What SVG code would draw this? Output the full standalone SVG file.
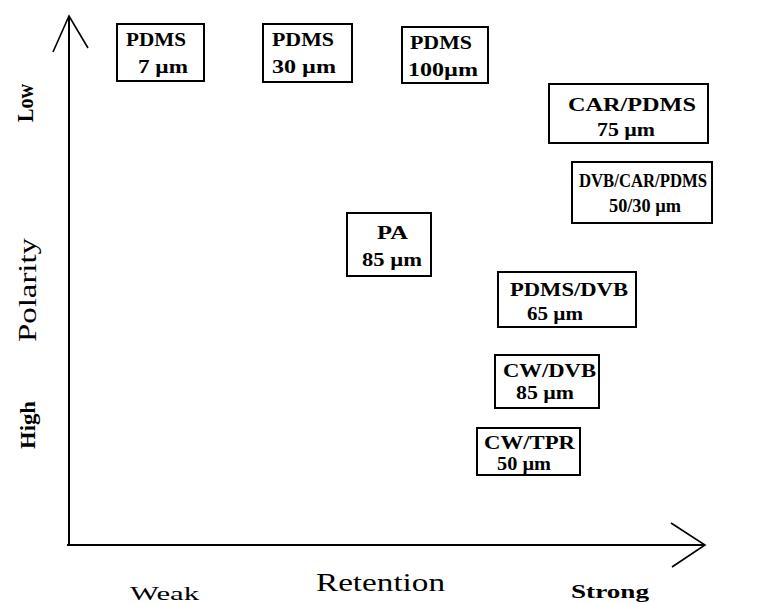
<svg xmlns="http://www.w3.org/2000/svg" width="758" height="603" viewBox="0 0 758 603">
<style>
.box{fill:#fff;stroke:#000;stroke-width:2}
.t{font-family:"Liberation Serif","Times New Roman",serif;font-weight:bold;font-size:18px;fill:#000}
.ax{fill:none;stroke:#000;stroke-width:2}
.ah{fill:none;stroke:#000;stroke-width:1.6}
.lab{font-family:"Liberation Serif","Times New Roman",serif;fill:#000}
</style>
<rect width="758" height="603" fill="#fff"/>
<g id="connectors">
<line class="ax" x1="69" y1="545" x2="69" y2="16"/>
<line class="ax" x1="67" y1="545" x2="705" y2="545"/>
<polyline class="ah" points="53,52 69,16 88,48"/>
<polyline class="ah" points="671,523 705,545 672,567"/>
</g>
<g id="n-pdms7"><rect class="box" x="117" y="24" width="87" height="57"/>
<text class="t" x="126" y="46" textLength="60" lengthAdjust="spacingAndGlyphs">PDMS</text>
<text class="t" x="138" y="73" textLength="50" lengthAdjust="spacingAndGlyphs">7 µm</text></g>
<g id="n-pdms30"><rect class="box" x="263" y="24" width="89" height="58"/>
<text class="t" x="272" y="46" textLength="62" lengthAdjust="spacingAndGlyphs">PDMS</text>
<text class="t" x="272" y="73" textLength="64" lengthAdjust="spacingAndGlyphs">30 µm</text></g>
<g id="n-pdms100"><rect class="box" x="402" y="27" width="86" height="56"/>
<text class="t" x="410" y="49" textLength="62" lengthAdjust="spacingAndGlyphs">PDMS</text>
<text class="t" x="408" y="76" textLength="70" lengthAdjust="spacingAndGlyphs">100µm</text></g>
<g id="n-carpdms"><rect class="box" x="549" y="84" width="159" height="59"/>
<text class="t" x="568" y="111" textLength="128" lengthAdjust="spacingAndGlyphs">CAR/PDMS</text>
<text class="t" x="597" y="136" textLength="58" lengthAdjust="spacingAndGlyphs">75 µm</text></g>
<g id="n-dvbcarpdms"><rect class="box" x="572" y="162" width="140" height="61"/>
<text class="t" x="579" y="187" font-size="19" textLength="128" lengthAdjust="spacingAndGlyphs">DVB/CAR/PDMS</text>
<text class="t" x="609" y="212" textLength="72" lengthAdjust="spacingAndGlyphs">50/30  µm</text></g>
<g id="n-pa"><rect class="box" x="347" y="213" width="84" height="63"/>
<text class="t" x="377" y="239" textLength="31" lengthAdjust="spacingAndGlyphs">PA</text>
<text class="t" x="362" y="266" textLength="60" lengthAdjust="spacingAndGlyphs">85 µm</text></g>
<g id="n-pdmsdvb"><rect class="box" x="498" y="272" width="138" height="55"/>
<text class="t" x="510" y="296" textLength="118" lengthAdjust="spacingAndGlyphs">PDMS/DVB</text>
<text class="t" x="527" y="320" textLength="56" lengthAdjust="spacingAndGlyphs">65 µm</text></g>
<g id="n-cwdvb"><rect class="box" x="495" y="355" width="104" height="53"/>
<text class="t" x="503" y="377" textLength="93" lengthAdjust="spacingAndGlyphs">CW/DVB</text>
<text class="t" x="516" y="399" textLength="58" lengthAdjust="spacingAndGlyphs">85 µm</text></g>
<g id="n-cwtpr"><rect class="box" x="477" y="428" width="103" height="47"/>
<text class="t" x="484" y="449" textLength="91" lengthAdjust="spacingAndGlyphs">CW/TPR</text>
<text class="t" x="497" y="470" textLength="54" lengthAdjust="spacingAndGlyphs">50 µm</text></g>
<g id="axis-labels">
<text class="lab" font-size="24" font-weight="bold" text-anchor="middle" transform="translate(33,103) rotate(-90)" textLength="38" lengthAdjust="spacingAndGlyphs">Low</text>
<text class="lab" font-size="26" text-anchor="middle" transform="translate(36,290) rotate(-90)" textLength="104" lengthAdjust="spacingAndGlyphs">Polarity</text>
<text class="lab" font-size="20" font-weight="bold" text-anchor="middle" transform="translate(35,425) rotate(-90)" textLength="48" lengthAdjust="spacingAndGlyphs">High</text>
<text class="lab" x="130" y="600" font-size="19" textLength="69" lengthAdjust="spacingAndGlyphs">Weak</text>
<text class="lab" x="316" y="591" font-size="25" textLength="129" lengthAdjust="spacingAndGlyphs">Retention</text>
<text class="lab" x="571" y="598" font-size="18" font-weight="bold" textLength="78" lengthAdjust="spacingAndGlyphs">Strong</text>
</g>
</svg>
